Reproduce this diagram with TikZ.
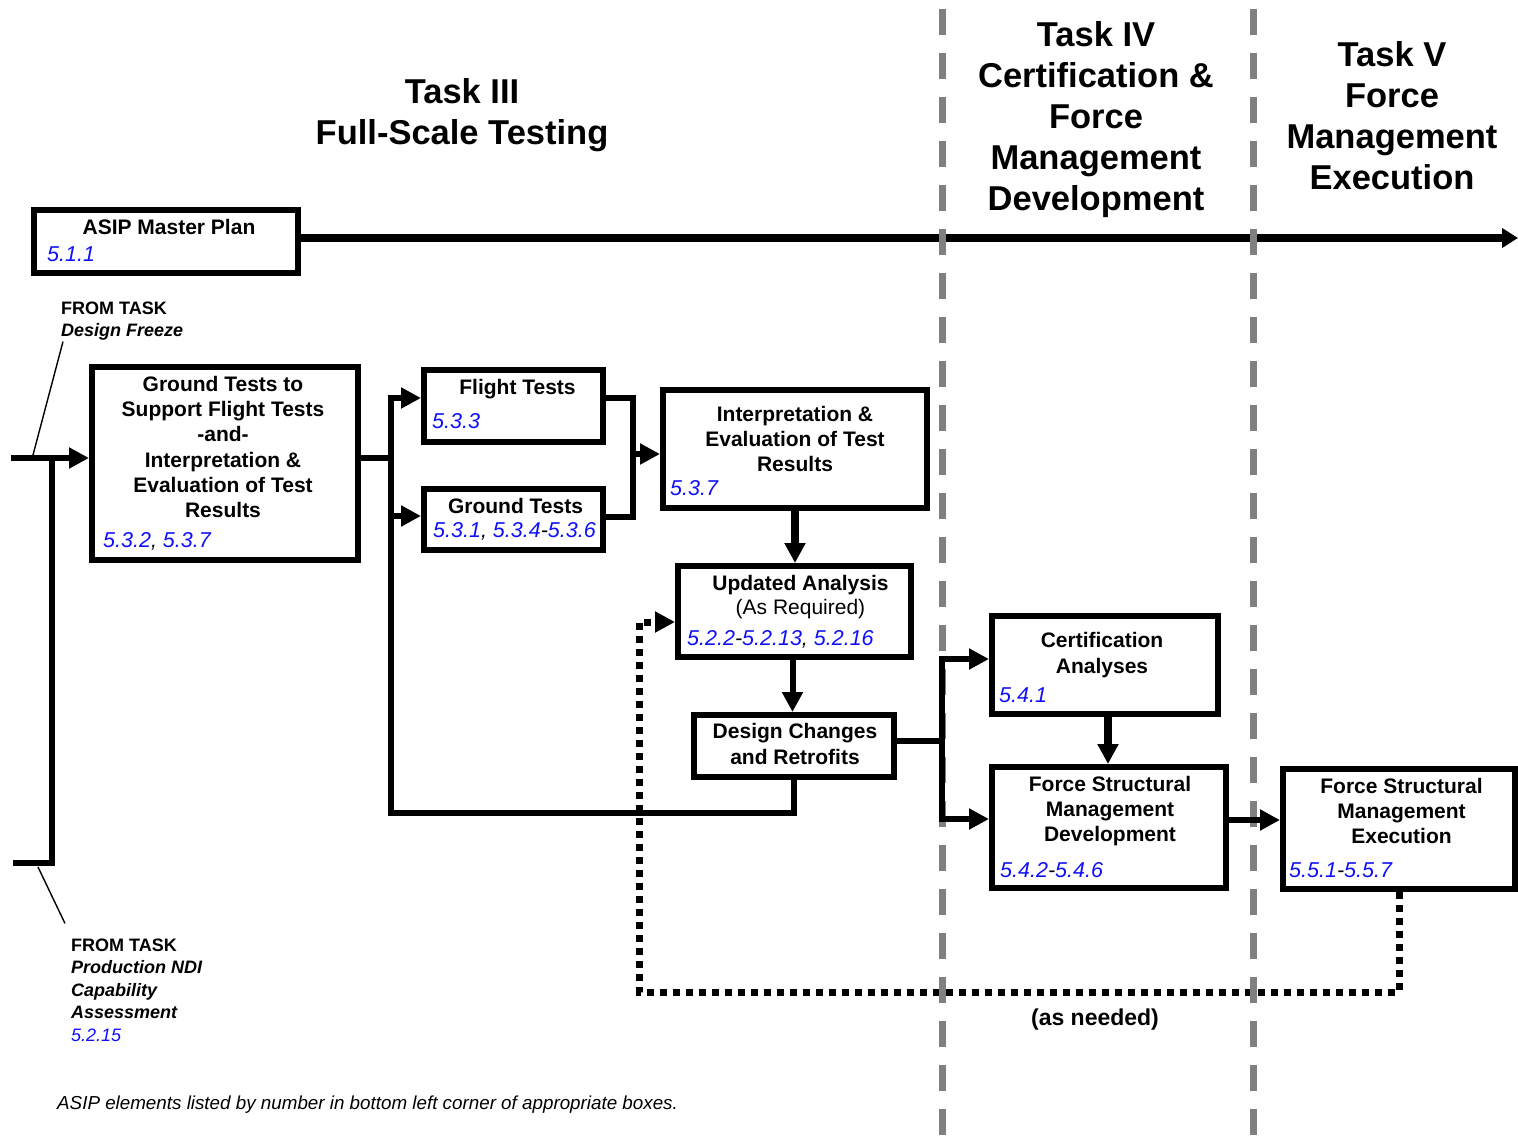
\documentclass[tikz,border=0pt]{standalone}
\usepackage{fontspec}
\setmainfont{Liberation Sans}
\usetikzlibrary{arrows.meta,positioning,calc}
\definecolor{numblue}{RGB}{15,15,250}
\definecolor{sepgray}{RGB}{128,128,128}
\newcommand{\nb}[1]{\textcolor{numblue}{#1}}
\tikzset{
  box/.style={draw, fill=white, line width=6pt, inner sep=0pt},
  btxt/.style={font=\fontsize{21}{25.3}\selectfont\bfseries, align=center, inner sep=0pt},
  num/.style={font=\fontsize{21.5}{25}\selectfont\itshape, anchor=west, inner sep=0pt},
  ttl/.style={font=\fontsize{34.5}{41}\selectfont\bfseries, align=center, inner sep=0pt},
  frm/.style={font=\fontsize{18}{22.5}\selectfont, align=left, anchor=west, inner sep=0pt},
  wire/.style={line width=6pt, line cap=rect},
  warr/.style={line width=6pt, line cap=rect, -{Triangle[length=20pt,width=20pt]}},
  fatarr/.style={line width=8.5pt, -{Triangle[length=20pt,width=20pt]}},
  tline/.style={line width=8pt, -{Triangle[length=16pt,width=19pt]}},
  lead/.style={line width=1.4pt},
  sepln/.style={sepgray, line width=7pt, dash pattern=on 26pt off 18pt},
  dotln/.style={line width=7pt, dash pattern=on 7pt off 6pt, -{Triangle[length=20pt,width=20pt]}},
}
\begin{document}
\begin{tikzpicture}[x=1pt,y=-1pt]
\useasboundingbox (0,0) rectangle (1518,1137);
%---- task headings
\node[ttl] (t3) at (462,115) {Task III\\Full-Scale Testing};
\node[ttl] (t4) at (1096,120) {Task IV\\Certification \&\\Force\\Management\\Development};
\node[ttl] (t5) at (1392,116) {Task V\\Force\\Management\\Execution};
%---- the boxes
\node[box, minimum width=264pt, minimum height=63pt] (asip) at (166,241.5) {};
\node[box, minimum width=266pt, minimum height=193pt] (gsup) at (225,463.5) {};
\node[box, minimum width=179pt, minimum height=72pt] (flt) at (513.5,406) {};
\node[box, minimum width=179pt, minimum height=61pt] (gnd) at (513.5,519.5) {};
\node[box, minimum width=264pt, minimum height=118pt] (interp) at (795,449) {};
\node[box, minimum width=233pt, minimum height=91pt] (upd) at (794.5,611.5) {};
\node[box, minimum width=200pt, minimum height=62pt] (dchg) at (794,746) {};
\node[box, minimum width=226pt, minimum height=98pt] (cert) at (1105,665) {};
\node[box, minimum width=234pt, minimum height=121pt] (fsmd) at (1109,827.5) {};
\node[box, minimum width=232pt, minimum height=120pt] (fsme) at (1399,829) {};
%---- box texts
\node[btxt] (asipT) at (169,227) {ASIP Master Plan};
\node[btxt] (gsupT) at (223,447) {Ground Tests to\\Support Flight Tests\\-and-\\Interpretation \&\\Evaluation of Test\\Results};
\node[btxt] (fltT) at (517.5,389) {Flight Tests};
\node[btxt] (gndT) at (515.5,506) {Ground Tests};
\node[btxt] (interpT) at (795,439) {Interpretation \&\\Evaluation of Test\\Results};
\node[btxt, font=\fontsize{21}{24.5}\selectfont] (updT) at (800.5,597) {\textbf{Updated Analysis}\\(As Required)};
\node[btxt] (dchgT) at (795,744) {Design Changes\\and Retrofits};
\node[btxt] (certT) at (1102,655) {Certification\\Analyses};
\node[btxt] (fsmdT) at (1110,811) {Force Structural\\Management\\Development};
\node[btxt] (fsmeT) at (1401.5,811) {Force Structural\\Management\\Execution};
%---- element numbers
\node[num] (asipN) at ([shift={(16,-22)}]asip.south west) {\nb{5.1.1}};
\node[num] (gsupN) at ([shift={(14,-22)}]gsup.south west) {\nb{5.3.2}, \nb{5.3.7}};
\node[num] (fltN) at ([shift={(11,-24)}]flt.south west) {\nb{5.3.3}};
\node[num] (gndN) at ([shift={(12,-22)}]gnd.south west) {\nb{5.3.1}, \nb{5.3.4}-\nb{5.3.6}};
\node[num] (interpN) at ([shift={(10,-23)}]interp.south west) {\nb{5.3.7}};
\node[num] (updN) at ([shift={(12,-21)}]upd.south west) {\nb{5.2.2}-\nb{5.2.13}, \nb{5.2.16}};
\node[num] (certN) at ([shift={(10,-22)}]cert.south west) {\nb{5.4.1}};
\node[num] (fsmdN) at ([shift={(11,-21)}]fsmd.south west) {\nb{5.4.2}-\nb{5.4.6}};
\node[num] (fsmeN) at ([shift={(9,-22)}]fsme.south west) {\nb{5.5.1}-\nb{5.5.7}};
%---- side notes
\node[frm] (ftA) at (61,321) {\textbf{FROM TASK}\\\textbf{\itshape Design Freeze}};
\node[frm] (ftB) at (71,990) {\textbf{FROM TASK}\\\textbf{\itshape Production NDI}\\\textbf{\itshape Capability}\\\textbf{\itshape Assessment}\\\textit{\nb{5.2.15}}};
\node[font=\fontsize{18.8}{22}\selectfont\itshape, anchor=west, inner sep=0pt] (note) at (57,1105) {ASIP elements listed by number in bottom left corner of appropriate boxes.};
\node[font=\fontsize{23}{27}\selectfont\bfseries, inner sep=0pt] (asn) at (1095,1020) {(as needed)};
%---- master plan time line and feedback loop
\coordinate (tlend) at (1518,238);
\draw[tline] (asip.east |- tlend) -- (tlend);
\coordinate (lp) at (639,992);
\draw[dotln] (fsme.south) |- (lp) |- ([yshift=-10.5pt]upd.west);
\foreach \sx in {942,1253}
  \draw[sepln] (\sx,9) -- (\sx,1137);
%---- inputs from earlier tasks
\coordinate (inA) at (14,458);
\coordinate (inB) at (16,863);
\coordinate (jn) at (52,458);
\draw[warr] (inA) -- (gsup.west |- inA);
\draw[wire] (inB) -| (jn);
\coordinate (ldA) at (33,455);
\coordinate (ldB) at (38,867);
\draw[lead] (ldA) -- ([shift={(2,1)}]ftA.south west);
\draw[lead] (ldB) -- ([shift={(-6,-15)}]ftB.north west);
%---- test branch
\coordinate (b1t) at (391,398);
\coordinate (b1g) at (391,516);
\coordinate (b1b) at (391,813);
\draw[wire] (gsup.east |- jn) -- (b1t |- jn);
\draw[warr] (b1b) -- (b1t) -- (flt.west |- b1t);
\draw[warr] (b1g) -- (gnd.west |- b1g);
\draw[wire] (b1b) -| (dchg.south);
\coordinate (b2t) at (633,398);
\coordinate (b2b) at (633,517);
\coordinate (b2m) at (633,454);
\draw[wire] (flt.east |- b2t) -- (b2t) -- (b2b) -- (gnd.east |- b2b);
\draw[warr] (b2m) -- (interp.west |- b2m);
\draw[fatarr] (interp.south) -- (interp.south |- upd.north);
\draw[warr] ([xshift=-2pt]upd.south) -- ([xshift=-2pt]upd.south |- dchg.north);
%---- into Task IV and V
\coordinate (b3t) at (942,659);
\coordinate (b3m) at (942,741);
\coordinate (b3b) at (942,819);
\draw[wire] (dchg.east |- b3m) -- (b3m);
\draw[warr] (b3m) -- (b3t) -- (cert.west |- b3t);
\draw[warr] (b3m) -- (b3b) -- (fsmd.west |- b3b);
\draw[fatarr] ([xshift=3pt]cert.south) -- ([xshift=3pt]cert.south |- fsmd.north);
\coordinate (ex) at ([yshift=7.5pt]fsmd.east);
\draw[warr] (ex) -- (ex -| fsme.west);
\end{tikzpicture}
\end{document}
